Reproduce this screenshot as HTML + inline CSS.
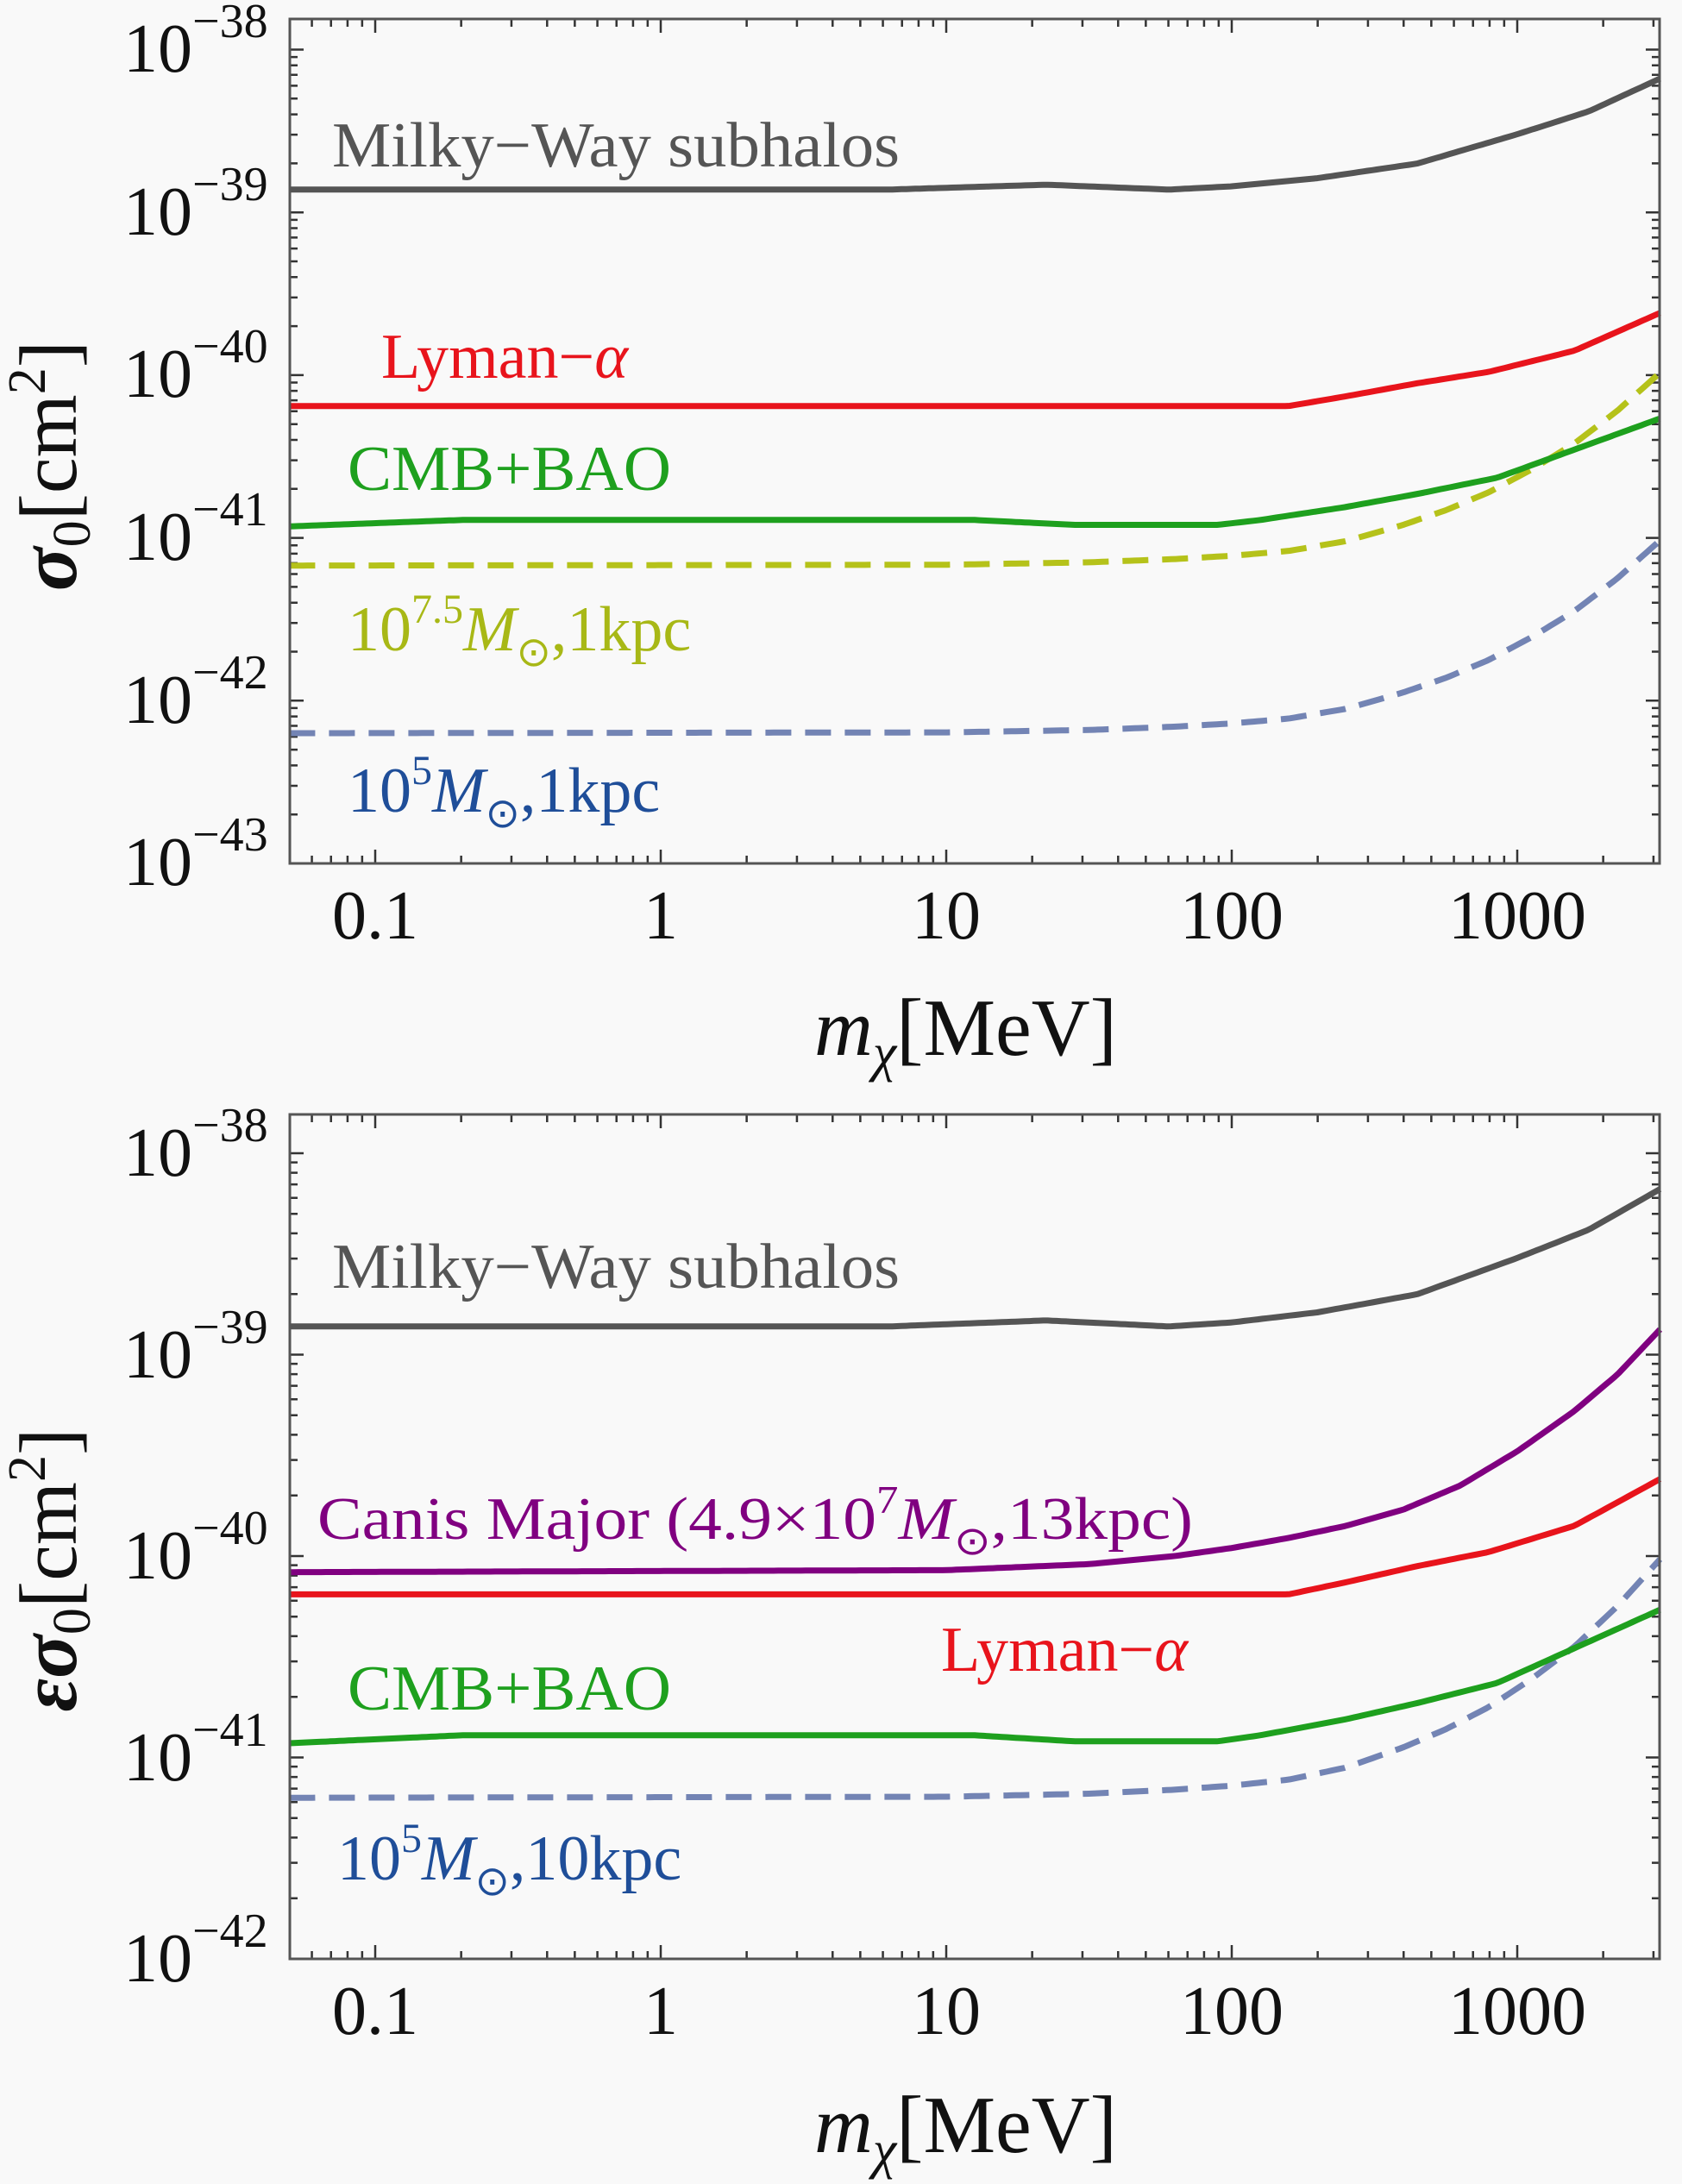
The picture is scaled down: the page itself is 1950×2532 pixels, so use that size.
<!DOCTYPE html>
<html><head><meta charset="utf-8"><style>
html,body{margin:0;padding:0;background:#f9f9f9;}
svg{display:block;}
text{font-family:"Liberation Serif",serif;}
</style></head><body>
<svg id="s" width="1950" height="2532" viewBox="0 0 1950 2532" xmlns="http://www.w3.org/2000/svg">
<rect width="1950" height="2532" fill="#f9f9f9"/>
<g id="g"></g>
<g font-size="80" fill="#111">
<text x="143" y="83">10<tspan dy="-40" font-size="56">−38</tspan></text>
<text x="143" y="272">10<tspan dy="-40" font-size="56">−39</tspan></text>
<text x="143" y="460">10<tspan dy="-40" font-size="56">−40</tspan></text>
<text x="143" y="649">10<tspan dy="-40" font-size="56">−41</tspan></text>
<text x="143" y="838">10<tspan dy="-40" font-size="56">−42</tspan></text>
<text x="143" y="1026">10<tspan dy="-40" font-size="56">−43</tspan></text>
<text x="435" y="1088" text-anchor="middle">0.1</text>
<text x="766" y="1088" text-anchor="middle">1</text>
<text x="1097" y="1088" text-anchor="middle">10</text>
<text x="1428" y="1088" text-anchor="middle">100</text>
<text x="1759" y="1088" text-anchor="middle">1000</text>
</g>
<text x="944" y="1223" font-size="94" fill="#111"><tspan font-style="italic">m</tspan><tspan font-style="italic" font-size="62" dy="18">χ</tspan><tspan dy="-18">[MeV]</tspan></text>
<text transform="translate(88,540) rotate(-90)" text-anchor="middle" font-size="94" fill="#111"><tspan font-style="italic" font-weight="bold">σ</tspan><tspan font-size="62" dy="16">0</tspan><tspan dy="-16">[cm</tspan><tspan font-size="62" dy="-36">2</tspan><tspan dy="36">]</tspan></text>

<text x="385" y="193" font-size="74" fill="#555" textLength="658" lengthAdjust="spacingAndGlyphs">Milky−Way subhalos</text>
<text x="442" y="438" font-size="74" fill="#e8141c">Lyman−<tspan font-style="italic">α</tspan></text>
<text x="403" y="568" font-size="74" fill="#1ea01e" textLength="375" lengthAdjust="spacingAndGlyphs">CMB+BAO</text>
<text x="403" y="754" font-size="74" fill="#a8b816">10<tspan font-size="48" dy="-32">7.5</tspan><tspan dy="32" font-style="italic">M</tspan><tspan font-size="48" dy="18">⊙</tspan><tspan dy="-18">,1kpc</tspan></text>
<text x="403" y="941" font-size="74" fill="#1f4e99">10<tspan font-size="48" dy="-32">5</tspan><tspan dy="32" font-style="italic">M</tspan><tspan font-size="48" dy="18">⊙</tspan><tspan dy="-18">,1kpc</tspan></text>

<g font-size="80" fill="#111">
<text x="143" y="1363">10<tspan dy="-40" font-size="56">−38</tspan></text>
<text x="143" y="1597">10<tspan dy="-40" font-size="56">−39</tspan></text>
<text x="143" y="1830">10<tspan dy="-40" font-size="56">−40</tspan></text>
<text x="143" y="2064">10<tspan dy="-40" font-size="56">−41</tspan></text>
<text x="143" y="2297">10<tspan dy="-40" font-size="56">−42</tspan></text>
<text x="435" y="2358" text-anchor="middle">0.1</text>
<text x="766" y="2358" text-anchor="middle">1</text>
<text x="1097" y="2358" text-anchor="middle">10</text>
<text x="1428" y="2358" text-anchor="middle">100</text>
<text x="1759" y="2358" text-anchor="middle">1000</text>
</g>
<text x="944" y="2495" font-size="94" fill="#111"><tspan font-style="italic">m</tspan><tspan font-style="italic" font-size="62" dy="18">χ</tspan><tspan dy="-18">[MeV]</tspan></text>
<text transform="translate(88,1820) rotate(-90)" text-anchor="middle" font-size="94" fill="#111"><tspan font-style="italic" font-weight="bold">εσ</tspan><tspan font-size="62" dy="16">0</tspan><tspan dy="-16">[cm</tspan><tspan font-size="62" dy="-36">2</tspan><tspan dy="36">]</tspan></text>

<text x="385" y="1493" font-size="74" fill="#555" textLength="658" lengthAdjust="spacingAndGlyphs">Milky−Way subhalos</text>
<text x="368" y="1784" font-size="70" fill="#800080" textLength="1015" lengthAdjust="spacingAndGlyphs">Canis Major (4.9×10<tspan font-size="46" dy="-30">7</tspan><tspan dy="30" font-style="italic">M</tspan><tspan font-size="46" dy="18">⊙</tspan><tspan dy="-18">,13kpc)</tspan></text>
<text x="1091" y="1937" font-size="74" fill="#e8141c">Lyman−<tspan font-style="italic">α</tspan></text>
<text x="403" y="1982" font-size="74" fill="#1ea01e" textLength="375" lengthAdjust="spacingAndGlyphs">CMB+BAO</text>
<text x="391" y="2179" font-size="74" fill="#1f4e99">10<tspan font-size="48" dy="-32">5</tspan><tspan dy="32" font-style="italic">M</tspan><tspan font-size="48" dy="18">⊙</tspan><tspan dy="-18">,10kpc</tspan></text>
</svg>
<script>
(function(){
var g=document.getElementById('g');var NS='http://www.w3.org/2000/svg';
function el(t,a){var e=document.createElementNS(NS,t);for(var k in a)e.setAttribute(k,a[k]);g.appendChild(e);return e;}
var L=336,R=1924,X0=435,DX=331;
function X(l){return X0+(l+1)*DX;}
function interp(pts,x){for(var i=0;i<pts.length-1;i++){if(x<=pts[i+1][0]){var a=pts[i],b=pts[i+1];var t=(x-a[0])/(b[0]-a[0]);return a[1]+(b[1]-a[1])*t;}}return pts[pts.length-1][1];}
var xmin=Math.log10(0.05),xmax=Math.log10(3162);
function curve(pts,Y,off,col,dash){var d='';for(var i=0;i<=300;i++){var x=xmin+(xmax-xmin)*i/300;var v=interp(pts,x)+off;d+=(i?'L':'M')+X(x).toFixed(1)+','+Y(v).toFixed(1);}
var a={d:d,fill:'none',stroke:col,'stroke-width':7,'stroke-linejoin':'round'};if(dash)a['stroke-dasharray']='30 16';el('path',a);}
var MW=[[-1.31,-38.86],[0,-38.86],[0.8,-38.86],[1.35,-38.83],[1.78,-38.86],[2,-38.84],[2.3,-38.79],[2.65,-38.70],[3,-38.52],[3.25,-38.38],[3.51,-38.17]];
var RED=[[-1.31,-40.19],[2.2,-40.19],[2.4,-40.13],[2.65,-40.05],[2.9,-39.98],[3.2,-39.85],[3.51,-39.61]];
var GRN=[[-1.31,-40.93],[-0.7,-40.89],[1.1,-40.89],[1.45,-40.92],[1.95,-40.92],[2.1,-40.89],[2.4,-40.81],[2.65,-40.73],[2.93,-40.63],[3.51,-40.26]];
var F=[[-1.31,0],[1,0.005],[1.5,0.02],[1.8,0.04],[2,0.06],[2.2,0.09],[2.4,0.15],[2.6,0.25],[2.75,0.34],[2.9,0.45],[3.05,0.59],[3.2,0.75],[3.35,0.95],[3.51,1.2]];
var PUR=[[-1.31,-40.08],[1,-40.07],[1.5,-40.04],[1.8,-40.0],[2,-39.96],[2.2,-39.91],[2.4,-39.85],[2.6,-39.77],[2.8,-39.65],[3,-39.48],[3.2,-39.28],[3.35,-39.1],[3.51,-38.86]];
function panel(top,bot,y38,dy,lo,hi){
 var Y=function(v){return y38+(-38-v)*dy;};
 var tk='';
 for(var d=-2;d<=3;d++){for(var m=1;m<=9;m++){var lx=d+Math.log10(m);var x=X(lx);if(x<L+1||x>R-1)continue;var len=m==1?16:9;tk+='M'+x+','+bot+'v'+(-len)+'M'+x+','+top+'v'+len;}}
 for(var d=lo;d<=hi;d++){for(var m=1;m<=9;m++){var lv=d+Math.log10(m);var y=Y(lv);if(y<top+1||y>bot-1)continue;var len=m==1?16:9;tk+='M'+L+','+y+'h'+len+'M'+R+','+y+'h'+(-len);}}
 el('path',{d:tk,stroke:'#333','stroke-width':2.5,fill:'none'});
 return Y;
}
var Y1=panel(22,1001,57.5,188.7,-44,-38);
curve(MW,Y1,0,'#555');curve(RED,Y1,0,'#e8141c');curve(F,Y1,-41.17,'#b5c21a',true);curve(GRN,Y1,0,'#1ea01e');curve(F,Y1,-42.2,'#7384b4',true);
var Y2=panel(1292,2271,1337,233.5,-43,-38);
curve(MW,Y2,0,'#555');curve(PUR,Y2,0,'#800080');curve(RED,Y2,0,'#e8141c');curve(F,Y2,-41.2,'#7384b4',true);curve(GRN,Y2,0,'#1ea01e');
el('rect',{x:L,y:22,width:R-L,height:979,fill:'none',stroke:'#555','stroke-width':3});
el('rect',{x:L,y:1292,width:R-L,height:979,fill:'none',stroke:'#555','stroke-width':3});
})();
</script>
</body></html>
